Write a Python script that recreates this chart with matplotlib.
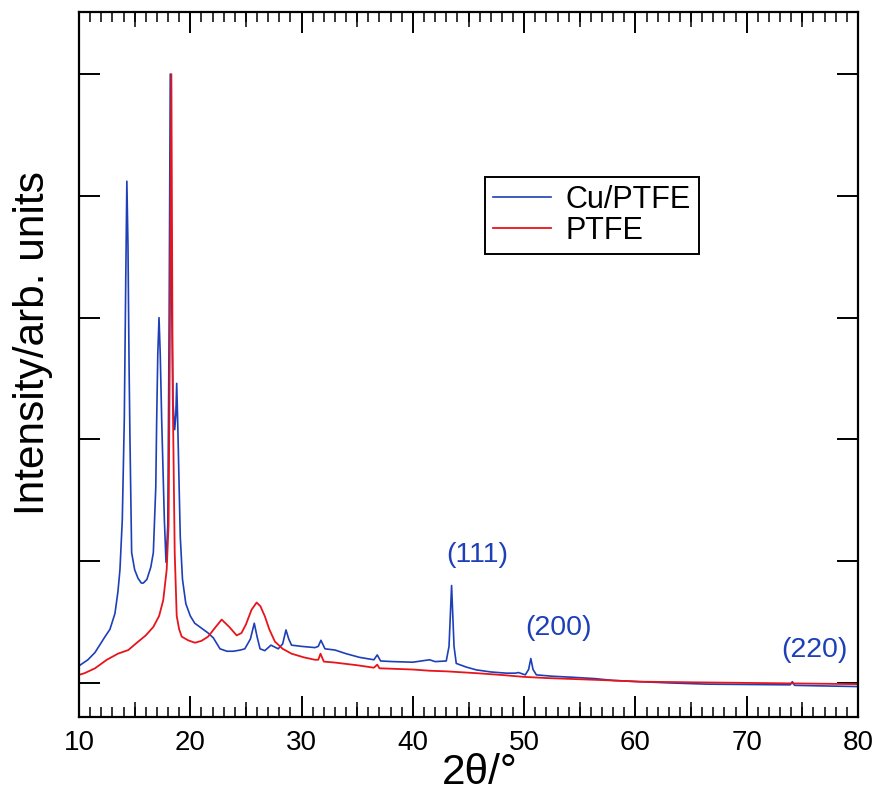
import matplotlib
matplotlib.use("Agg")
import matplotlib.pyplot as plt
from matplotlib.ticker import MultipleLocator, NullFormatter

plt.rcParams['font.family'] = ['Liberation Sans', 'DejaVu Sans']

# Cu/PTFE pattern (2theta, intensity in arb. units)
cu_x = [10.0, 10.8, 11.44, 12.34, 12.78, 13.23, 13.5, 13.68, 13.89, 14.07, 14.2, 14.3,
        14.4, 14.5, 14.58, 14.73, 15.0, 15.3, 15.6, 15.78, 16.1, 16.45, 16.68, 16.9,
        16.98, 17.08, 17.19, 17.3, 17.43, 17.67, 17.82, 17.98, 18.1, 18.2, 18.32, 18.45,
        18.6, 18.7, 18.78, 18.88, 19.0, 19.1, 19.3, 19.6, 20.0, 20.4, 21.0, 21.6,
        22.07, 22.67, 23.3, 23.87, 24.5, 24.9, 25.4, 25.75, 26.0, 26.27, 26.7, 27.25,
        27.9, 28.3, 28.6, 28.85, 29.1, 30.0, 31.2, 31.5, 31.74, 32.1, 33.0, 34.0, 35.2,
        36.5, 36.8, 37.1, 38.2, 40.0, 41.5, 42.0, 43.0, 43.25, 43.48, 43.7, 43.9, 44.8,
        45.7, 47.0, 48.4, 49.2, 49.5, 50.1, 50.4, 50.6, 50.8, 51.1, 52.5, 54.4, 56.4,
        58.0, 60.4, 63.0, 66.4, 70.0, 73.9, 74.1, 74.3, 77.0, 80.0]
cu_y = [0.14, 0.19, 0.25, 0.38, 0.44, 0.57, 0.75, 0.93, 1.34, 2.16, 3.3, 4.12,
        3.6, 2.6, 2.0, 1.07, 0.93, 0.86, 0.82, 0.82, 0.85, 0.95, 1.07, 1.61,
        2.16, 2.7, 3.0, 2.7, 2.16, 1.34, 0.99, 1.3, 3.0, 5.0, 3.2, 2.3,
        2.08, 2.2, 2.46, 2.1, 1.6, 1.2, 0.85, 0.65, 0.55, 0.49, 0.45, 0.41,
        0.37, 0.28, 0.26, 0.26, 0.27, 0.28, 0.36, 0.49, 0.38, 0.28, 0.265, 0.31,
        0.28, 0.32, 0.435, 0.36, 0.31, 0.30, 0.29, 0.30, 0.35, 0.28, 0.27, 0.24, 0.21,
        0.19, 0.23, 0.18, 0.175, 0.17, 0.19, 0.175, 0.18, 0.30, 0.80, 0.30, 0.16, 0.13,
        0.107, 0.09, 0.08, 0.08, 0.085, 0.066, 0.11, 0.20, 0.11, 0.066, 0.055, 0.046, 0.035,
        0.02, 0.01, 0.0, -0.01, -0.013, -0.016, 0.01, -0.02, -0.025, -0.03]

# PTFE pattern
ptfe_x = [10.0, 10.5, 11.44, 12.5, 13.5, 14.43, 15.2, 16.0, 16.68, 17.2, 17.57, 17.88,
          18.05, 18.15, 18.3, 18.42, 18.6, 18.78, 19.0, 19.23, 19.8, 20.42, 21.0, 21.6,
          22.2, 22.82, 23.5, 24.17, 24.6, 25.0, 25.5, 25.96, 26.3, 26.71, 27.1, 27.6,
          28.3, 29.1, 30.2, 31.2, 31.5, 31.7, 32.0, 33.0, 35.0, 36.5, 36.8, 37.0, 38.5,
          40.0, 41.5, 43.0, 45.7, 48.0, 49.9, 52.0, 55.0, 58.0, 60.4, 65.0, 70.0, 75.0,
          80.0]
ptfe_y = [0.066, 0.08, 0.12, 0.19, 0.24, 0.27, 0.33, 0.39, 0.46, 0.55, 0.68, 0.93,
          1.3, 2.6, 5.0, 2.4, 1.07, 0.55, 0.44, 0.38, 0.35, 0.33, 0.345, 0.38,
          0.45, 0.52, 0.46, 0.39, 0.41, 0.48, 0.60, 0.66, 0.63, 0.545, 0.44, 0.34,
          0.28, 0.24, 0.21, 0.19, 0.19, 0.24, 0.175, 0.167, 0.145, 0.125, 0.15, 0.12, 0.115,
          0.11, 0.10, 0.095, 0.08, 0.065, 0.05, 0.04, 0.03, 0.02, 0.01, 0.005, 0.0, -0.005,
          -0.01]

peak_labels = ['(111)', '(200)', '(220)']
peak_label_x = [45.75, 53.1, 76.1]
peak_label_y = [1.05, 0.45, 0.27]

blue = '#1d3fb8'
red = '#e8141c'

fig = plt.figure(figsize=(8.79, 7.92), dpi=100)
ax = fig.add_axes([79 / 879, 75 / 792, 779 / 879, 705 / 792])

ax.plot(cu_x, cu_y, color=blue, lw=1.2, label='Cu/PTFE')
ax.plot(ptfe_x, ptfe_y, color=red, lw=1.3, label='PTFE')

for lab, lx, ly in zip(peak_labels, peak_label_x, peak_label_y):
    ax.text(lx, ly, lab, color=blue, fontsize=20.5, ha='center', va='center')

ax.set_xlim(10, 80)
ax.set_ylim(-0.28, 5.51)

ax.xaxis.set_major_locator(MultipleLocator(10))
ax.xaxis.set_minor_locator(MultipleLocator(1))
ax.yaxis.set_major_locator(MultipleLocator(1))
ax.yaxis.set_major_formatter(NullFormatter())
ax.tick_params(axis='x', which='major', direction='in', length=15, width=1.4,
               top=True, labelsize=20, pad=9)
ax.tick_params(axis='x', which='minor', direction='in', length=7, width=1.1, top=True)
ax.tick_params(axis='y', which='major', direction='in', length=15, width=1.4,
               right=True, left=True)

# medium ticks every 5 degrees
for side in ['bottom', 'top']:
    sec = ax.secondary_xaxis(side)
    sec.set_xticks([15, 25, 35, 45, 55, 65, 75])
    sec.xaxis.set_major_formatter(NullFormatter())
    sec.tick_params(direction='in', length=11, width=1.1)
    sec.spines[side].set_visible(False)

for sp in ax.spines.values():
    sp.set_linewidth(1.6)

ax.set_xlabel('2θ/°', fontsize=30.5)
ax.xaxis.set_label_coords(0.515, -0.079)
ax.xaxis.label.set_va('center')
ax.set_ylabel('Intensity/arb. units', fontsize=30.5)
ax.yaxis.set_label_coords(-0.059, 0.53)
ax.yaxis.label.set_va('center')

leg = ax.legend(loc='upper left', bbox_to_anchor=(485 / 879, 1 - 177 / 792),
                bbox_transform=fig.transFigure, borderaxespad=0, fontsize=22,
                handlelength=1.9, handletextpad=0.5, labelspacing=0.05,
                borderpad=0.25, fancybox=False, framealpha=1)
leg.get_frame().set_edgecolor('black')
leg.get_frame().set_linewidth(1.4)

fig.savefig('out.png', dpi=100)
